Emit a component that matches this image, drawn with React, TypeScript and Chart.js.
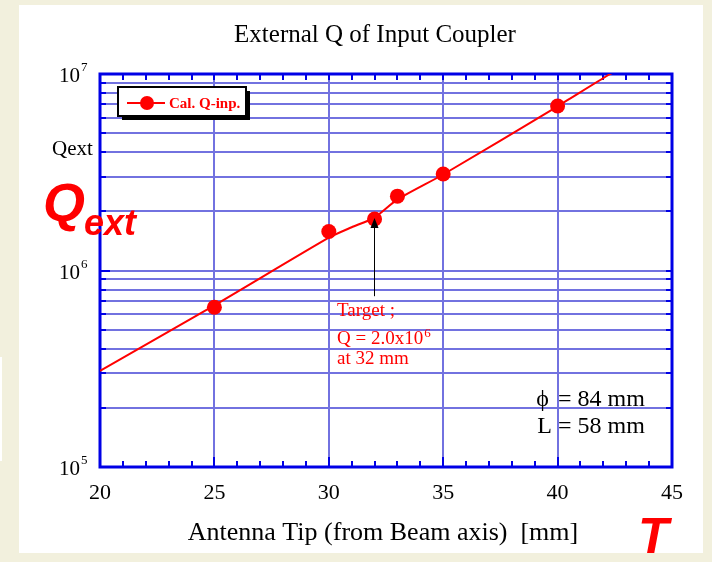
import React, { useEffect, useRef } from "react";
import { Chart, registerables } from "chart.js";
Chart.register(...registerables);

const X_TICKS = [20, 21, 22, 23, 24, 25, 26, 27, 28, 29, 30, 31, 32, 33, 34, 35, 36, 37, 38, 39, 40, 41, 42, 43, 44, 45];
const X_LABELED = [20, 25, 30, 35, 40, 45];
const Y_TICKS = [1e5, 2e5, 3e5, 4e5, 5e5, 6e5, 7e5, 8e5, 9e5, 1e6, 2e6, 3e6, 4e6, 5e6, 6e6, 7e6, 8e6, 9e6, 1e7];
const Y_MAJOR = [1e5, 1e6, 1e7];
const Y_EXP = ["5", "6", "7"];

const CALC_X = [25, 30, 32, 33, 35, 40];
const CALC_Q = [6.5e5, 1.58e6, 1.83e6, 2.39e6, 3.1e6, 6.87e6];

const FIT_X = [20, 25, 30, 31, 32, 33, 35, 40, 42.3, 45];
const FIT_Q = [3.08e5, 6.65e5, 1.47e6, 1.66e6, 1.86e6, 2.3e6, 3.08e6, 6.85e6, 1.0e7, 1.5e7];

const ARROW_X = 32;
const ARROW_FROM_Q = 7.4e5;
const ARROW_TO_Q = 1.85e6;

const GRID = "#7272e0";
const BLUE = "#0000e6";
const RED = "#ff0000";
const SERIF = "'Liberation Serif', 'Times New Roman', serif";
const SANS = "'Liberation Sans', Arial, sans-serif";

const deco = {
  id: "deco",
  beforeDraw(chart: any) {
    const c = chart.ctx;
    c.save();
    c.fillStyle = "#f2f0dd";
    c.fillRect(0, 0, chart.width, chart.height);
    c.fillStyle = "#ffffff";
    c.fillRect(19, 5, 684, 548);
    c.fillRect(0, 357, 2, 104);
    c.restore();
  },
  beforeDatasetsDraw(chart: any) {
    const c = chart.ctx;
    const a = chart.chartArea;
    const xs = chart.scales.x;
    const ys = chart.scales.y;
    c.save();
    c.strokeStyle = BLUE;
    c.lineWidth = 2;
    c.beginPath();
    X_TICKS.forEach((v) => {
      const px = Math.round(xs.getPixelForValue(v));
      const len = X_LABELED.includes(v) ? 10 : 6;
      c.moveTo(px, a.bottom);
      c.lineTo(px, a.bottom - len);
      c.moveTo(px, a.top);
      c.lineTo(px, a.top + 6);
    });
    Y_TICKS.forEach((v) => {
      const py = Math.round(ys.getPixelForValue(v));
      const len = Y_MAJOR.includes(v) ? 10 : 6;
      c.moveTo(a.left, py);
      c.lineTo(a.left + len, py);
      c.moveTo(a.right, py);
      c.lineTo(a.right - 6, py);
    });
    c.stroke();
    c.lineWidth = 3;
    c.strokeRect(a.left, a.top, a.right - a.left, a.bottom - a.top);
    c.restore();
  },
  afterDatasetsDraw(chart: any) {
    const c = chart.ctx;
    const xs = chart.scales.x;
    const ys = chart.scales.y;
    c.save();

    // y tick labels 10^n
    c.fillStyle = "#000";
    Y_MAJOR.forEach((v, i) => {
      const py = ys.getPixelForValue(v);
      c.font = `21px ${SERIF}`;
      c.textAlign = "right";
      c.textBaseline = "alphabetic";
      c.fillText("10", 80, py + 8);
      c.font = `13px ${SERIF}`;
      c.textAlign = "left";
      c.fillText(Y_EXP[i], 81, py - 3);
    });

    // title
    c.font = `25px ${SERIF}`;
    c.textAlign = "center";
    c.fillText("External Q of Input Coupler", 375, 42);

    // x axis title
    c.font = `26px ${SERIF}`;
    c.fillText("Antenna Tip (from Beam axis)  [mm]", 383, 540);

    // y axis label
    c.font = `21px ${SERIF}`;
    c.textAlign = "left";
    c.fillText("Qext", 52, 155);

    // big red Q_ext
    c.fillStyle = RED;
    c.font = `italic bold 54px ${SANS}`;
    c.fillText("Q", 43, 221);
    c.font = `italic bold 36px ${SANS}`;
    c.fillText("ext", 84, 235);

    // big red T
    c.font = `italic bold 50px ${SANS}`;
    c.fillText("T", 638, 553);

    // phi, L
    c.fillStyle = "#000";
    c.font = `24px ${SERIF}`;
    c.textAlign = "right";
    c.fillText("\u03D5", 549, 406);
    c.fillText("L", 552, 433);
    c.textAlign = "left";
    c.fillText("= 84 mm", 558, 406);
    c.fillText("= 58 mm", 558, 433);

    // arrow
    const ax = Math.round(xs.getPixelForValue(ARROW_X)) - 0.5;
    const y0 = ys.getPixelForValue(ARROW_FROM_Q);
    const y1 = ys.getPixelForValue(ARROW_TO_Q);
    c.strokeStyle = "#000";
    c.lineWidth = 1;
    c.beginPath();
    c.moveTo(ax, y0);
    c.lineTo(ax, y1 + 8);
    c.stroke();
    c.fillStyle = "#000";
    c.beginPath();
    c.moveTo(ax, y1);
    c.lineTo(ax - 4, y1 + 10);
    c.lineTo(ax + 4, y1 + 10);
    c.closePath();
    c.fill();

    // target annotation
    c.fillStyle = RED;
    c.font = `19px ${SERIF}`;
    c.textAlign = "left";
    c.fillText("Target ;", 337, 316);
    c.fillText("Q = 2.0x10", 337, 344);
    const w = c.measureText("Q = 2.0x10").width;
    c.font = `13px ${SERIF}`;
    c.fillText("6", 337 + w + 1, 337);
    c.font = `19px ${SERIF}`;
    c.fillText("at 32 mm", 337, 364);

    // legend box
    const lx = 118, ly = 87, lw = 128, lh = 29;
    c.fillStyle = "#000";
    c.fillRect(lx + 4, ly + 4, lw, lh);
    c.fillStyle = "#fff";
    c.fillRect(lx, ly, lw, lh);
    c.strokeStyle = "#000";
    c.lineWidth = 2;
    c.strokeRect(lx, ly, lw, lh);
    c.strokeStyle = RED;
    c.lineWidth = 2;
    c.beginPath();
    c.moveTo(127, 103);
    c.lineTo(165, 103);
    c.stroke();
    c.fillStyle = RED;
    c.beginPath();
    c.arc(147, 103, 7, 0, Math.PI * 2);
    c.fill();
    c.font = `bold 15px ${SERIF}`;
    c.fillText(chart.data.datasets[1].label, 169, 108);

    c.restore();
  },
};

export default function App() {
  const ref = useRef<HTMLCanvasElement | null>(null);
  useEffect(() => {
    if (!ref.current) return;
    const chart = new Chart(ref.current, {
      type: "scatter",
      data: {
        datasets: [
          {
            label: "fit",
            data: FIT_X.map((x, i) => ({ x, y: FIT_Q[i] })),
            showLine: true,
            borderColor: RED,
            borderWidth: 2,
            pointRadius: 0,
            tension: 0.2,
            order: 2,
          },
          {
            label: "Cal. Q-inp.",
            data: CALC_X.map((x, i) => ({ x, y: CALC_Q[i] })),
            showLine: false,
            pointRadius: 7.5,
            backgroundColor: RED,
            borderColor: RED,
            borderWidth: 0,
            order: 1,
          },
        ],
      } as any,
      options: {
        responsive: false,
        animation: false,
        devicePixelRatio: 1,
        layout: { padding: { top: 74, right: 40, left: 0, bottom: 0 } },
        plugins: {
          legend: { display: false },
          tooltip: { enabled: false },
          title: { display: false },
        },
        scales: {
          x: {
            type: "linear",
            min: 20,
            max: 45,
            afterBuildTicks: (s: any) => {
              s.ticks = X_TICKS.map((v) => ({ value: v }));
            },
            afterFit: (s: any) => {
              s.height = 95;
            },
            grid: {
              color: (ctx: any) => (ctx.tick && X_LABELED.includes(ctx.tick.value) ? GRID : "rgba(0,0,0,0)"),
              lineWidth: 2,
              drawTicks: false,
            },
            border: { display: false },
            ticks: {
              autoSkip: false,
              maxRotation: 0,
              padding: 13,
              color: "#000",
              font: { family: SERIF, size: 22 },
              callback: (v: any) => (X_LABELED.includes(Number(v)) ? String(v) : ""),
            },
          },
          y: {
            type: "logarithmic",
            min: 1e5,
            max: 1e7,
            afterBuildTicks: (s: any) => {
              s.ticks = Y_TICKS.map((v) => ({ value: v }));
            },
            afterFit: (s: any) => {
              s.width = 100;
            },
            grid: { color: GRID, lineWidth: 2, drawTicks: false },
            border: { display: false },
            ticks: { display: false },
          },
        },
      } as any,
      plugins: [deco],
    });
    return () => chart.destroy();
  }, []);
  return (
    <div style={{ position: "fixed", left: 0, top: 0, width: 712, height: 562 }}>
      <canvas ref={ref} width={712} height={562} />
    </div>
  );
}
